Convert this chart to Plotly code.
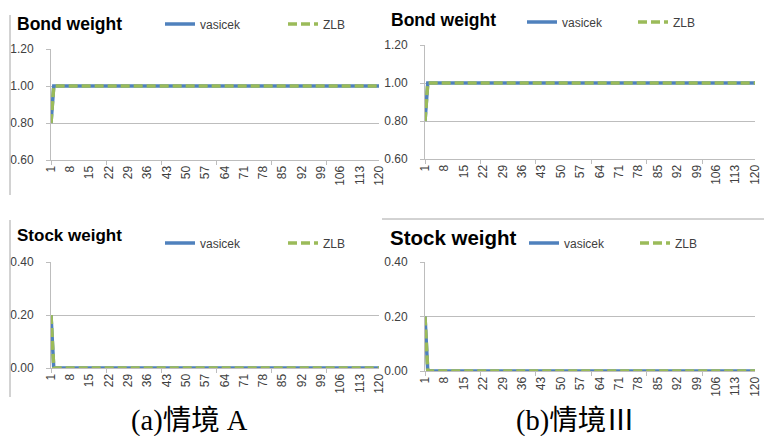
import plotly.graph_objects as go

# ---------------- data ----------------
periods = list(range(1, 121))
tick_vals = [1, 8, 15, 22, 29, 36, 43, 50, 57, 64, 71, 78, 85, 92, 99, 106, 113, 120]
tick_text = ["1", "8", "15", "22", "29", "36", "43", "50", "57", "64", "71", "78",
             "85", "92", "99", "106", "113", "120"]
bond_ticks = [0.60, 0.80, 1.00, 1.20]
stock_ticks = [0.00, 0.20, 0.40]

bond_vasicek_A = [
    0.8, 1.0, 1.0, 1.0, 1.0, 1.0, 1.0, 1.0, 1.0, 1.0, 1.0, 1.0, 1.0, 1.0, 1.0, 1.0, 1.0, 1.0, 1.0, 1.0,
    1.0, 1.0, 1.0, 1.0, 1.0, 1.0, 1.0, 1.0, 1.0, 1.0, 1.0, 1.0, 1.0, 1.0, 1.0, 1.0, 1.0, 1.0, 1.0, 1.0,
    1.0, 1.0, 1.0, 1.0, 1.0, 1.0, 1.0, 1.0, 1.0, 1.0, 1.0, 1.0, 1.0, 1.0, 1.0, 1.0, 1.0, 1.0, 1.0, 1.0,
    1.0, 1.0, 1.0, 1.0, 1.0, 1.0, 1.0, 1.0, 1.0, 1.0, 1.0, 1.0, 1.0, 1.0, 1.0, 1.0, 1.0, 1.0, 1.0, 1.0,
    1.0, 1.0, 1.0, 1.0, 1.0, 1.0, 1.0, 1.0, 1.0, 1.0, 1.0, 1.0, 1.0, 1.0, 1.0, 1.0, 1.0, 1.0, 1.0, 1.0,
    1.0, 1.0, 1.0, 1.0, 1.0, 1.0, 1.0, 1.0, 1.0, 1.0, 1.0, 1.0, 1.0, 1.0, 1.0, 1.0, 1.0, 1.0, 1.0, 1.0,
]
bond_zlb_A = [
    0.8, 1.0, 1.0, 1.0, 1.0, 1.0, 1.0, 1.0, 1.0, 1.0, 1.0, 1.0, 1.0, 1.0, 1.0, 1.0, 1.0, 1.0, 1.0, 1.0,
    1.0, 1.0, 1.0, 1.0, 1.0, 1.0, 1.0, 1.0, 1.0, 1.0, 1.0, 1.0, 1.0, 1.0, 1.0, 1.0, 1.0, 1.0, 1.0, 1.0,
    1.0, 1.0, 1.0, 1.0, 1.0, 1.0, 1.0, 1.0, 1.0, 1.0, 1.0, 1.0, 1.0, 1.0, 1.0, 1.0, 1.0, 1.0, 1.0, 1.0,
    1.0, 1.0, 1.0, 1.0, 1.0, 1.0, 1.0, 1.0, 1.0, 1.0, 1.0, 1.0, 1.0, 1.0, 1.0, 1.0, 1.0, 1.0, 1.0, 1.0,
    1.0, 1.0, 1.0, 1.0, 1.0, 1.0, 1.0, 1.0, 1.0, 1.0, 1.0, 1.0, 1.0, 1.0, 1.0, 1.0, 1.0, 1.0, 1.0, 1.0,
    1.0, 1.0, 1.0, 1.0, 1.0, 1.0, 1.0, 1.0, 1.0, 1.0, 1.0, 1.0, 1.0, 1.0, 1.0, 1.0, 1.0, 1.0, 1.0, 1.0,
]
bond_vasicek_III = [
    0.8, 1.0, 1.0, 1.0, 1.0, 1.0, 1.0, 1.0, 1.0, 1.0, 1.0, 1.0, 1.0, 1.0, 1.0, 1.0, 1.0, 1.0, 1.0, 1.0,
    1.0, 1.0, 1.0, 1.0, 1.0, 1.0, 1.0, 1.0, 1.0, 1.0, 1.0, 1.0, 1.0, 1.0, 1.0, 1.0, 1.0, 1.0, 1.0, 1.0,
    1.0, 1.0, 1.0, 1.0, 1.0, 1.0, 1.0, 1.0, 1.0, 1.0, 1.0, 1.0, 1.0, 1.0, 1.0, 1.0, 1.0, 1.0, 1.0, 1.0,
    1.0, 1.0, 1.0, 1.0, 1.0, 1.0, 1.0, 1.0, 1.0, 1.0, 1.0, 1.0, 1.0, 1.0, 1.0, 1.0, 1.0, 1.0, 1.0, 1.0,
    1.0, 1.0, 1.0, 1.0, 1.0, 1.0, 1.0, 1.0, 1.0, 1.0, 1.0, 1.0, 1.0, 1.0, 1.0, 1.0, 1.0, 1.0, 1.0, 1.0,
    1.0, 1.0, 1.0, 1.0, 1.0, 1.0, 1.0, 1.0, 1.0, 1.0, 1.0, 1.0, 1.0, 1.0, 1.0, 1.0, 1.0, 1.0, 1.0, 1.0,
]
bond_zlb_III = [
    0.8, 1.0, 1.0, 1.0, 1.0, 1.0, 1.0, 1.0, 1.0, 1.0, 1.0, 1.0, 1.0, 1.0, 1.0, 1.0, 1.0, 1.0, 1.0, 1.0,
    1.0, 1.0, 1.0, 1.0, 1.0, 1.0, 1.0, 1.0, 1.0, 1.0, 1.0, 1.0, 1.0, 1.0, 1.0, 1.0, 1.0, 1.0, 1.0, 1.0,
    1.0, 1.0, 1.0, 1.0, 1.0, 1.0, 1.0, 1.0, 1.0, 1.0, 1.0, 1.0, 1.0, 1.0, 1.0, 1.0, 1.0, 1.0, 1.0, 1.0,
    1.0, 1.0, 1.0, 1.0, 1.0, 1.0, 1.0, 1.0, 1.0, 1.0, 1.0, 1.0, 1.0, 1.0, 1.0, 1.0, 1.0, 1.0, 1.0, 1.0,
    1.0, 1.0, 1.0, 1.0, 1.0, 1.0, 1.0, 1.0, 1.0, 1.0, 1.0, 1.0, 1.0, 1.0, 1.0, 1.0, 1.0, 1.0, 1.0, 1.0,
    1.0, 1.0, 1.0, 1.0, 1.0, 1.0, 1.0, 1.0, 1.0, 1.0, 1.0, 1.0, 1.0, 1.0, 1.0, 1.0, 1.0, 1.0, 1.0, 1.0,
]
stock_vasicek_A = [
    0.2, 0.0, 0.0, 0.0, 0.0, 0.0, 0.0, 0.0, 0.0, 0.0, 0.0, 0.0, 0.0, 0.0, 0.0, 0.0, 0.0, 0.0, 0.0, 0.0,
    0.0, 0.0, 0.0, 0.0, 0.0, 0.0, 0.0, 0.0, 0.0, 0.0, 0.0, 0.0, 0.0, 0.0, 0.0, 0.0, 0.0, 0.0, 0.0, 0.0,
    0.0, 0.0, 0.0, 0.0, 0.0, 0.0, 0.0, 0.0, 0.0, 0.0, 0.0, 0.0, 0.0, 0.0, 0.0, 0.0, 0.0, 0.0, 0.0, 0.0,
    0.0, 0.0, 0.0, 0.0, 0.0, 0.0, 0.0, 0.0, 0.0, 0.0, 0.0, 0.0, 0.0, 0.0, 0.0, 0.0, 0.0, 0.0, 0.0, 0.0,
    0.0, 0.0, 0.0, 0.0, 0.0, 0.0, 0.0, 0.0, 0.0, 0.0, 0.0, 0.0, 0.0, 0.0, 0.0, 0.0, 0.0, 0.0, 0.0, 0.0,
    0.0, 0.0, 0.0, 0.0, 0.0, 0.0, 0.0, 0.0, 0.0, 0.0, 0.0, 0.0, 0.0, 0.0, 0.0, 0.0, 0.0, 0.0, 0.0, 0.0,
]
stock_zlb_A = [
    0.2, 0.0, 0.0, 0.0, 0.0, 0.0, 0.0, 0.0, 0.0, 0.0, 0.0, 0.0, 0.0, 0.0, 0.0, 0.0, 0.0, 0.0, 0.0, 0.0,
    0.0, 0.0, 0.0, 0.0, 0.0, 0.0, 0.0, 0.0, 0.0, 0.0, 0.0, 0.0, 0.0, 0.0, 0.0, 0.0, 0.0, 0.0, 0.0, 0.0,
    0.0, 0.0, 0.0, 0.0, 0.0, 0.0, 0.0, 0.0, 0.0, 0.0, 0.0, 0.0, 0.0, 0.0, 0.0, 0.0, 0.0, 0.0, 0.0, 0.0,
    0.0, 0.0, 0.0, 0.0, 0.0, 0.0, 0.0, 0.0, 0.0, 0.0, 0.0, 0.0, 0.0, 0.0, 0.0, 0.0, 0.0, 0.0, 0.0, 0.0,
    0.0, 0.0, 0.0, 0.0, 0.0, 0.0, 0.0, 0.0, 0.0, 0.0, 0.0, 0.0, 0.0, 0.0, 0.0, 0.0, 0.0, 0.0, 0.0, 0.0,
    0.0, 0.0, 0.0, 0.0, 0.0, 0.0, 0.0, 0.0, 0.0, 0.0, 0.0, 0.0, 0.0, 0.0, 0.0, 0.0, 0.0, 0.0, 0.0, 0.0,
]
stock_vasicek_III = [
    0.2, 0.0, 0.0, 0.0, 0.0, 0.0, 0.0, 0.0, 0.0, 0.0, 0.0, 0.0, 0.0, 0.0, 0.0, 0.0, 0.0, 0.0, 0.0, 0.0,
    0.0, 0.0, 0.0, 0.0, 0.0, 0.0, 0.0, 0.0, 0.0, 0.0, 0.0, 0.0, 0.0, 0.0, 0.0, 0.0, 0.0, 0.0, 0.0, 0.0,
    0.0, 0.0, 0.0, 0.0, 0.0, 0.0, 0.0, 0.0, 0.0, 0.0, 0.0, 0.0, 0.0, 0.0, 0.0, 0.0, 0.0, 0.0, 0.0, 0.0,
    0.0, 0.0, 0.0, 0.0, 0.0, 0.0, 0.0, 0.0, 0.0, 0.0, 0.0, 0.0, 0.0, 0.0, 0.0, 0.0, 0.0, 0.0, 0.0, 0.0,
    0.0, 0.0, 0.0, 0.0, 0.0, 0.0, 0.0, 0.0, 0.0, 0.0, 0.0, 0.0, 0.0, 0.0, 0.0, 0.0, 0.0, 0.0, 0.0, 0.0,
    0.0, 0.0, 0.0, 0.0, 0.0, 0.0, 0.0, 0.0, 0.0, 0.0, 0.0, 0.0, 0.0, 0.0, 0.0, 0.0, 0.0, 0.0, 0.0, 0.0,
]
stock_zlb_III = [
    0.2, 0.0, 0.0, 0.0, 0.0, 0.0, 0.0, 0.0, 0.0, 0.0, 0.0, 0.0, 0.0, 0.0, 0.0, 0.0, 0.0, 0.0, 0.0, 0.0,
    0.0, 0.0, 0.0, 0.0, 0.0, 0.0, 0.0, 0.0, 0.0, 0.0, 0.0, 0.0, 0.0, 0.0, 0.0, 0.0, 0.0, 0.0, 0.0, 0.0,
    0.0, 0.0, 0.0, 0.0, 0.0, 0.0, 0.0, 0.0, 0.0, 0.0, 0.0, 0.0, 0.0, 0.0, 0.0, 0.0, 0.0, 0.0, 0.0, 0.0,
    0.0, 0.0, 0.0, 0.0, 0.0, 0.0, 0.0, 0.0, 0.0, 0.0, 0.0, 0.0, 0.0, 0.0, 0.0, 0.0, 0.0, 0.0, 0.0, 0.0,
    0.0, 0.0, 0.0, 0.0, 0.0, 0.0, 0.0, 0.0, 0.0, 0.0, 0.0, 0.0, 0.0, 0.0, 0.0, 0.0, 0.0, 0.0, 0.0, 0.0,
    0.0, 0.0, 0.0, 0.0, 0.0, 0.0, 0.0, 0.0, 0.0, 0.0, 0.0, 0.0, 0.0, 0.0, 0.0, 0.0, 0.0, 0.0, 0.0, 0.0,
]

series_names = ["vasicek", "ZLB"]
panel_titles = ["Bond weight", "Bond weight", "Stock weight", "Stock weight"]
captions = ["(a)情境 A", "(b)情境Ⅲ"]

# ---------------- style ----------------
W, H = 764, 436
BLUE = "#4F81BD"
GREEN = "#9BBB59"
GRID = "#BDBDBD"
TXT = "#404040"
SANS = "Liberation Sans, Arial, sans-serif"


def px(x):
    return x / W


def py(y):
    return 1 - y / H


panels = [
    dict(sfx="", vals=(bond_vasicek_A, bond_zlb_A), xpx=(51, 379), ypx=(160, 49),
         yr=(0.6, 1.2), yt=bond_ticks, title=(15, 24, 17.5), leg=(160, 24, 118)),
    dict(sfx="2", vals=(bond_vasicek_III, bond_zlb_III), xpx=(425, 755), ypx=(159, 45),
         yr=(0.6, 1.2), yt=bond_ticks, title=(389, 20, 17.5), leg=(522, 22, 106)),
    dict(sfx="3", vals=(stock_vasicek_A, stock_zlb_A), xpx=(51, 379), ypx=(368, 262),
         yr=(0.0, 0.4), yt=stock_ticks, title=(15, 235, 17), leg=(160, 243, 118)),
    dict(sfx="4", vals=(stock_vasicek_III, stock_zlb_III), xpx=(425, 755), ypx=(371, 262),
         yr=(0.0, 0.4), yt=stock_ticks, title=(388, 237, 20.5), leg=(524, 243, 106)),
]

fig = go.Figure()
layout = dict(
    width=W, height=H,
    margin=dict(l=0, r=0, t=0, b=0, autoexpand=False),
    paper_bgcolor="white", plot_bgcolor="white",
    showlegend=True,
    annotations=[], shapes=[],
)

for i, p in enumerate(panels):
    s = p["sfx"]
    xa = "x" + s
    ya = "y" + s
    legname = "legend" + s
    fig.add_trace(go.Scatter(
        x=periods, y=p["vals"][0], mode="lines", name=series_names[0],
        line=dict(color=BLUE, width=3.5), xaxis=xa, yaxis=ya, legend=legname))
    fig.add_trace(go.Scatter(
        x=periods, y=p["vals"][1], mode="lines", name=series_names[1],
        line=dict(color=GREEN, width=3.5, dash="9px,4px"), xaxis=xa, yaxis=ya, legend=legname))

    layout["xaxis" + s] = dict(
        domain=[px(p["xpx"][0]), px(p["xpx"][1])],
        range=[1, 120], anchor=ya,
        tickmode="array", tickvals=tick_vals, ticktext=tick_text,
        tickangle=-90, ticks="", showgrid=False, zeroline=False,
        showline=True, linecolor=GRID, linewidth=1,
        tickfont=dict(family=SANS, size=12, color=TXT),
        ticklabeloverflow="allow",
        minor=dict(ticks="outside", ticklen=4, tickcolor=GRID, tick0=1, dtick=20, showgrid=False),
    )
    layout["yaxis" + s] = dict(
        domain=[py(p["ypx"][0]), py(p["ypx"][1])],
        range=list(p["yr"]), anchor=xa,
        tickmode="array", tickvals=p["yt"], ticktext=[f"{v:.2f}" for v in p["yt"]],
        ticks="outside", ticklen=4, tickcolor=GRID,
        showgrid=True, gridcolor=GRID, gridwidth=1, zeroline=False,
        showline=True, linecolor=GRID, linewidth=1,
        tickfont=dict(family=SANS, size=12, color=TXT),
        ticklabelstandoff=10, ticklabeloverflow="allow",
    )
    lx, ly, lw = p["leg"]
    layout[legname] = dict(
        orientation="h", x=px(lx), y=py(ly), xanchor="left", yanchor="middle",
        bgcolor="rgba(0,0,0,0)", borderwidth=0,
        font=dict(family=SANS, size=12, color=TXT),
        entrywidth=lw - 40, entrywidthmode="pixels",
        itemclick=False, itemdoubleclick=False,
    )
    tx, ty, tsize = p["title"]
    layout["annotations"].append(dict(
        text="<b>" + panel_titles[i] + "</b>", xref="paper", yref="paper",
        x=px(tx), y=py(ty), xanchor="left", yanchor="middle", showarrow=False,
        font=dict(family=SANS, size=tsize, color="black"),
    ))

# captions
for cx, cap in zip([189, 575], captions):
    layout["annotations"].append(dict(
        text=cap, xref="paper", yref="paper", x=px(cx), y=py(421),
        xanchor="center", yanchor="middle", showarrow=False,
        font=dict(family="Liberation Serif, Noto Sans CJK TC, serif", size=28.5, color="black"),
    ))

# chart-area border fragments
border = dict(color="#A6A6A6", width=1)
layout["shapes"] += [
    dict(type="line", xref="paper", yref="paper", x0=px(10), x1=px(10), y0=py(15), y1=py(195), line=border),
    dict(type="line", xref="paper", yref="paper", x0=px(10), x1=px(10), y0=py(220), y1=py(397), line=border),
    dict(type="line", xref="paper", yref="paper", x0=px(382), x1=px(764), y0=py(219), y1=py(219), line=border),
]

fig.update_layout(**layout)
fig.write_html(
    "out.html",
    config={"displayModeBar": False},
    post_script="document.body.style.margin='0';document.body.style.overflow='hidden';",
)
